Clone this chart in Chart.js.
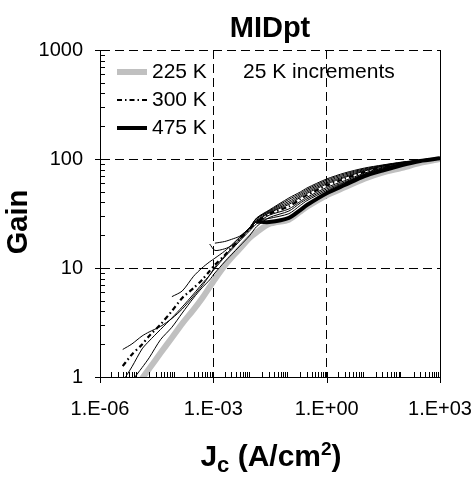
<!DOCTYPE html>
<html>
<head>
<meta charset="utf-8">
<script src="https://cdn.jsdelivr.net/npm/chart.js@4.4.1/dist/chart.umd.min.js"></script>
<style>
  html, body { margin: 0; padding: 0; background: #fff; }
</style>
</head>
<body>
<canvas id="graficoGanancia" width="475" height="477"></canvas>
<script>
// densidad de corriente (A/cm2), comun a todas las curvas
const jc = [4e-6, 7e-6, 1.3e-5, 2e-5, 4e-5, 8e-5, 1.5e-4, 3e-4, 5e-4, 8e-4, 1.1e-3, 2e-3, 3e-3, 5e-3, 9e-3,
  1.4e-2, 3e-2, 0.1, 0.2, 0.3, 1, 3, 10, 30, 100, 300, 1000]

// ganancia por temperatura (null = sin dato)
const gain225 = [null, null, 0.97, 1.19, 1.66, 2.29, 3.09, 4.15, 5.25, 6.7, 7.9, 10.5, 12.4, 15.0, 18.8,
  21.3, 25.3, 27.8, 33.0, 36.5, 46.5, 55, 66, 75, 83, 92, 100]
const gain250 = [null, 0.92, 1.22, 1.50, 2.2, 2.86, 3.86, 5.32, 6.57, 7.78, 9.0, 11.4, 13.2, 15.9, 19.7,
  24.0, 29.0, 33.3, 39.4, 43.0, 53.1, 61.5, 72.8, 82.6, 89.9, 95.9, 101.4]
const gain275 = [0.91, 1.24, 1.81, 2.14, 2.73, 3.48, 4.39, 5.77, 7.14, 8.6, 9.9, 12.6, 14.6, 17.7, 21.8,
  25.5, 30.5, 34.8, 40.8, 44.5, 54.8, 63.2, 74.1, 83.4, 90.6, 96.2, 101.6]
const gain300 = [1.26, 1.61, 1.99, 2.38, 3.03, 4.03, 5.31, 6.55, 7.76, 9.39, 10.7, 13.1, 15.3, 18.4, 22.7,
  26.5, 31.3, 36.7, 42.8, 46.6, 57.1, 65.8, 76.0, 84.5, 91.2, 96.6, 101.6]
const gain325 = [1.79, 2.01, 2.38, 2.59, 2.91, 3.44, 4.2, 5.53, 6.84, 8.6, 10.2, 12.9, 15.1, 18.3, 22.7,
  26.8, 32.0, 38.3, 44.4, 48.3, 59.0, 67.8, 77.6, 85.3, 91.8, 97.0, 101.9]
const gain350 = [null, null, null, null, null, 5.46, 6.15, 8.4, 10.0, 11.4, 12.3, 14.3, 16.2, 19.2, 23.2,
  27.5, 32.4, 39.5, 45.6, 49.7, 60.5, 69.2, 78.7, 85.9, 92.3, 97.2, 101.9]
const gain375 = [null, null, null, null, null, null, null, null, null, 16.6, 14.5, 15.0, 16.0, 19.0, 23.2,
  28.3, 33.0, 40.9, 47.0, 51.2, 62.2, 71.0, 80.0, 86.7, 92.9, 97.5, 102.1]
const gain400 = [null, null, null, null, null, null, null, null, null, null, 16.9, 17.5, 18.3, 19.6, 23.3,
  28.6, 33.5, 42.5, 48.4, 52.7, 64.0, 72.8, 81.3, 87.5, 93.3, 97.7, 102.3]
const gain425 = [null, null, null, null, null, null, null, null, null, null, null, null, null, 19.2, 23.2,
  28.8, 34.0, 43.9, 49.8, 54.2, 65.6, 74.5, 82.6, 88.1, 93.8, 97.9, 102.3]
const gain450 = [null, null, null, null, null, null, null, null, null, null, null, null, null, null, 22.7,
  27.0, 28.5, 31.5, 37.5, 41.5, 51.5, 60.5, 72.0, 81.5, 89.5, 96.0, 101.4]
const gain475 = [null, null, null, null, null, null, null, null, null, null, null, null, null, null, null,
  26.6, 26.4, 28.8, 34.0, 37.8, 48.5, 57.7, 69.6, 78.3, 88.1, 95.9, 101.5]

const temperaturas = ['225 K', '250 K', '275 K', '300 K', '325 K', '350 K', '375 K', '400 K', '425 K', '450 K', '475 K']
const ganancias = [gain225, gain250, gain275, gain300, gain325, gain350, gain375, gain400, gain425, gain450, gain475]

const valoresX = [1e-6, 1e-3, 1, 1e3]
const etiquetasX = ['1.E-06', '1.E-03', '1.E+00', '1.E+03']
const valoresY = [1, 10, 100, 1000]
const etiquetasY = ['1', '10', '100', '1000']
const leyenda = ['225 K', '300 K', '475 K']

const fuente = '"Liberation Sans", Arial, sans-serif'

function estilo(nombre) {
  if (nombre === '225 K') return { borderColor: '#c0c0c0', borderWidth: 6, order: 3 }
  if (nombre === '475 K') return { borderColor: '#000', borderWidth: 4, order: 1 }
  if (nombre === '300 K') return { borderColor: '#000', borderWidth: 2.2, borderDash: [5, 3, 1.5, 3], order: 2 }
  return { borderColor: '#000', borderWidth: 1, order: 2 }
}

const conjuntos = temperaturas.map((t, i) => Object.assign({
  label: t,
  data: jc.map((x, j) => ({ x: x, y: ganancias[i][j] })),
  pointRadius: 0,
  tension: 0.25,
  clip: 0,
  fill: false
}, estilo(t)))

const decoracion = {
  id: 'decoracion',
  afterDraw(chart) {
    const { ctx, chartArea: a, scales: { x, y } } = chart
    ctx.save()
    ctx.strokeStyle = '#000'
    ctx.lineWidth = 1
    ctx.beginPath()
    const der = Math.round(a.right) + 0.5
    ctx.moveTo(der, a.top)
    ctx.lineTo(der, a.bottom)
    // marcas menores y mayores del eje x
    for (let d = -6; d < 3; d++) {
      for (let k = 2; k < 10; k++) {
        const px = Math.round(x.getPixelForValue(k * Math.pow(10, d))) + 0.5
        ctx.moveTo(px, a.bottom)
        ctx.lineTo(px, a.bottom - 5)
      }
    }
    valoresX.forEach((v) => {
      const px = Math.round(x.getPixelForValue(v)) + 0.5
      ctx.moveTo(px, a.bottom - 5)
      ctx.lineTo(px, a.bottom + 6)
    })
    // marcas del eje y
    for (let d = 0; d < 3; d++) {
      for (let k = 2; k < 10; k++) {
        const py = Math.round(y.getPixelForValue(k * Math.pow(10, d))) + 0.5
        ctx.moveTo(a.left, py)
        ctx.lineTo(a.left + 5, py)
      }
    }
    valoresY.forEach((v) => {
      const py = Math.round(y.getPixelForValue(v)) + 0.5
      ctx.moveTo(a.left - 5, py)
      ctx.lineTo(a.left + 5, py)
    })
    ctx.stroke()

    // leyenda
    ctx.font = '21px ' + fuente
    ctx.fillStyle = '#000'
    ctx.textBaseline = 'middle'
    ctx.textAlign = 'left'
    leyenda.forEach((nombre, i) => {
      const ds = chart.data.datasets.find((d) => d.label === nombre)
      const yy = a.top + 22 + i * 28
      ctx.save()
      ctx.strokeStyle = ds.borderColor
      ctx.lineWidth = ds.borderWidth
      ctx.setLineDash(ds.borderDash || [])
      ctx.beginPath()
      ctx.moveTo(a.left + 17, yy)
      ctx.lineTo(a.left + 47, yy)
      ctx.stroke()
      ctx.restore()
      ctx.fillText(nombre, a.left + 52, yy)
    })
    ctx.fillText('25 K increments', a.left + 143, a.top + 22)

    // titulo eje y
    ctx.save()
    ctx.font = 'bold 29px ' + fuente
    ctx.textAlign = 'center'
    ctx.translate(18.5, (a.top + a.bottom) / 2 + 8.5)
    ctx.rotate(-Math.PI / 2)
    ctx.fillText('Gain', 0, 0)
    ctx.restore()

    // titulo eje x con subindice y superindice
    const partes = [['J', 30, 0], ['c', 22, 6], [' (A/cm', 30, 0], ['2', 19, -11], [')', 30, 0]]
    ctx.textBaseline = 'alphabetic'
    let total = 0
    partes.forEach((p) => { ctx.font = 'bold ' + p[1] + 'px ' + fuente; total += ctx.measureText(p[0]).width })
    let cx = (a.left + a.right) / 2 + 1 - total / 2
    const base = a.bottom + 89
    partes.forEach((p) => {
      ctx.font = 'bold ' + p[1] + 'px ' + fuente
      ctx.fillText(p[0], cx, base + p[2])
      cx += ctx.measureText(p[0]).width
    })
    ctx.restore()
  }
}

const lienzo = document.getElementById('graficoGanancia')

new Chart(lienzo, {
  type: 'line',
  data: { datasets: conjuntos },
  plugins: [decoracion],
  options: {
    responsive: false,
    devicePixelRatio: 1,
    animation: false,
    layout: { padding: { left: 0, right: 35, top: 0, bottom: 0 } },
    plugins: {
      legend: { display: false },
      tooltip: { enabled: false },
      title: {
        display: true,
        fullSize: false,
        text: 'MIDpt',
        color: '#000',
        font: { family: fuente, size: 29, weight: 'bold' },
        padding: { top: 12, bottom: 3.2 }
      }
    },
    scales: {
      x: {
        type: 'logarithmic',
        min: 1e-6,
        max: 1e3,
        afterBuildTicks: (eje) => { eje.ticks = valoresX.map((v) => ({ value: v })) },
        afterFit: (eje) => {
          eje.height = 100
          eje.paddingLeft = 0
          eje.paddingRight = 0
        },
        ticks: {
          autoSkip: false,
          maxRotation: 0,
          padding: 20,
          color: '#000',
          font: { family: fuente, size: 20 },
          callback: (v) => etiquetasX[valoresX.indexOf(v)]
        },
        grid: {
          drawTicks: false,
          lineWidth: 1,
          color: (c) => (c.tick && (c.tick.value === 1e-3 || c.tick.value === 1)) ? '#000' : 'rgba(0,0,0,0)'
        },
        border: { display: true, color: '#000', width: 1, dash: [9, 5] }
      },
      y: {
        type: 'logarithmic',
        min: 1,
        max: 1000,
        afterBuildTicks: (eje) => { eje.ticks = valoresY.map((v) => ({ value: v })) },
        afterFit: (eje) => {
          eje.width = 100
          eje.paddingTop = 0
          eje.paddingBottom = 0
        },
        ticks: {
          padding: 17,
          color: '#000',
          font: { family: fuente, size: 20 },
          callback: (v) => etiquetasY[valoresY.indexOf(v)]
        },
        grid: {
          drawTicks: false,
          lineWidth: 1,
          color: (c) => (c.tick && c.tick.value > 1) ? '#000' : 'rgba(0,0,0,0)'
        },
        border: { display: true, color: '#000', width: 1, dash: [9, 5] }
      }
    }
  }
})
</script>
</body>
</html>
